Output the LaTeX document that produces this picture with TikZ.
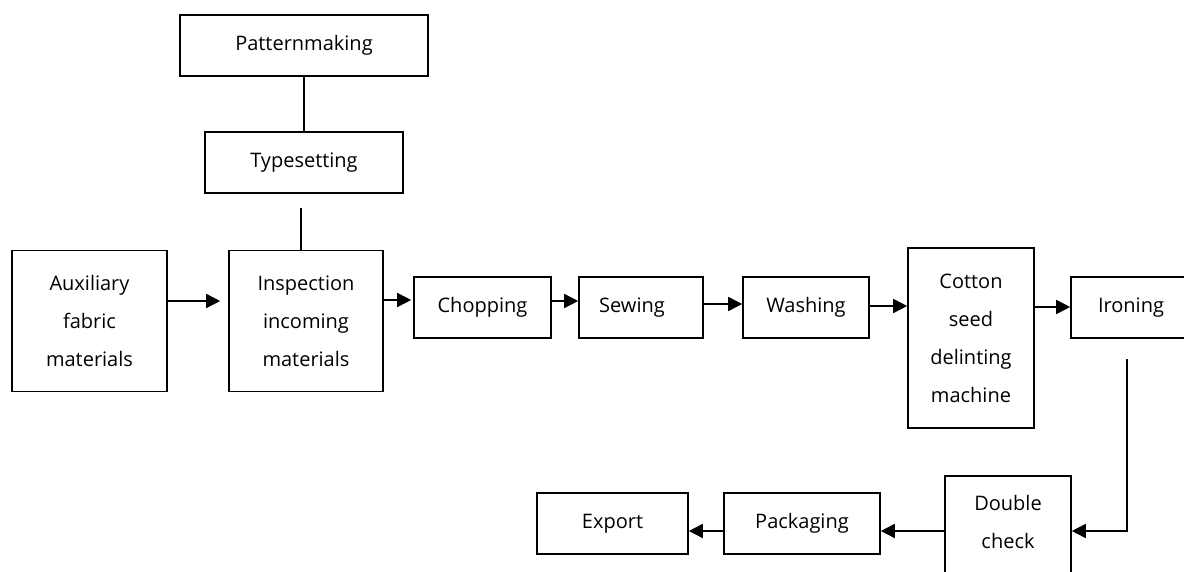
\documentclass[tikz,border=0pt]{standalone}
\usepackage{fontspec}
\setmainfont{Open Sans}
\usetikzlibrary{arrows.meta,calc}
\begin{document}
\begin{tikzpicture}[x=1pt,y=-1pt,
  box/.style={draw,line width=1.6pt,inner sep=0pt,align=center,
    font=\fontsize{20}{38}\selectfont},
  conn/.style={line width=1.6pt},
  arr/.style={conn,-{Triangle[length=14pt,width=14pt]}}]
\useasboundingbox (0,0) rectangle (1184,572);
\node[box,minimum width=248pt,minimum height=61pt] (pat) at (304,45.5) {Patternmaking};
\node[box,minimum width=198pt,minimum height=61pt] (typ) at (304,162.5) {Typesetting};
\node[box,minimum width=155pt,minimum height=141pt] (aux) at (89.5,321) {Auxiliary\\fabric\\materials};
\node[box,minimum width=154pt,minimum height=141pt] (ins) at (306,321) {Inspection\\incoming\\materials};
\node[box,minimum width=137pt,minimum height=61pt] (chop) at (482.5,307.5) {Chopping};
\node[box,minimum width=124pt,minimum height=61pt] (sew) at (641,307.5) {Sewing\hspace*{18pt}};
\node[box,minimum width=126pt,minimum height=61pt] (wash) at (806,307.5) {Washing};
\node[box,minimum width=126pt,minimum height=180pt] (cot) at (971,338) {Cotton\\seed\\delinting\\machine};
\node[box,minimum width=120pt,minimum height=61pt] (iron) at (1131,307.5) {Ironing};
\node[box,minimum width=126pt,minimum height=108pt] (dbl) at (1008,530) {Double\\check\\[-21pt]};
\node[box,minimum width=156pt,minimum height=61pt] (pack) at (802,523.5) {Packaging};
\node[box,minimum width=151pt,minimum height=61pt] (exp) at (612.5,523.5) {Export};
% connectors
\draw[conn] (pat) -- (typ);
\coordinate (tsdrop) at (301,208);
\draw[conn] (tsdrop) -- (tsdrop |- ins.north);
\draw[arr,shorten >=8pt] ([yshift=20pt]aux.east) -- ([yshift=20pt]ins.west);
\draw[arr,shorten >=2pt] ([yshift=21pt]ins.east) -- ([yshift=7.5pt]chop.west);
\draw[arr] ([yshift=6.5pt]chop.east) -- ([yshift=6.5pt]sew.west);
\draw[arr] ([yshift=3.5pt]sew.east) -- ([yshift=3.5pt]wash.west);
\draw[arr] ([yshift=1.5pt]wash.east) -- ([yshift=1.5pt]wash.east -| cot.west);
\draw[arr] ([yshift=31pt]cot.east) -- ([yshift=31pt]cot.east -| iron.west);
\coordinate (irdrop) at (1127,359);
\draw[arr] (irdrop) |- ([yshift=-1pt]dbl.east);
\draw[arr] ([yshift=-1pt]dbl.west) -- ([yshift=-1pt]dbl.west -| pack.east);
\draw[arr] ([yshift=-1pt]dbl.west -| pack.west) -- ([yshift=-1pt]dbl.west -| exp.east);
\end{tikzpicture}
\end{document}
